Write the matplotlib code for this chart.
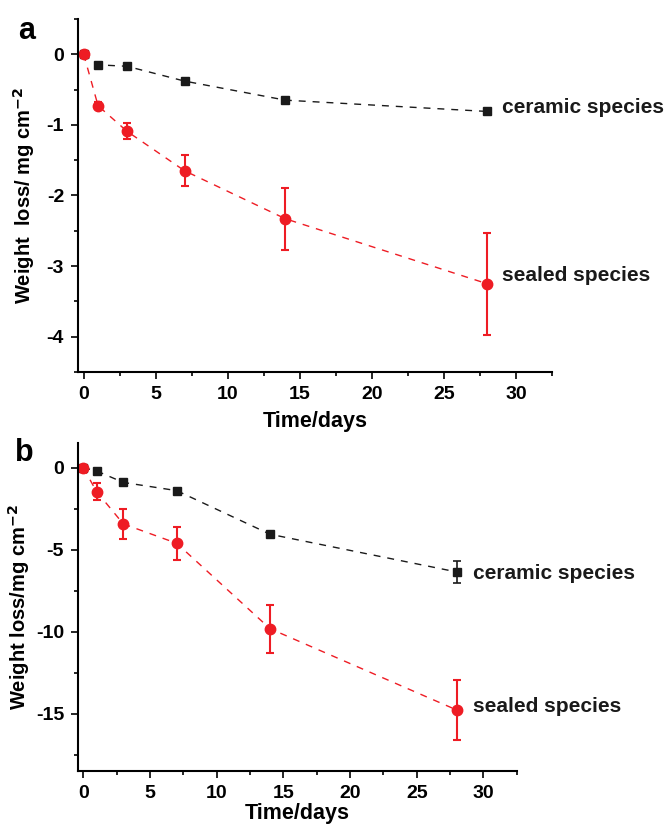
import matplotlib.pyplot as plt
from matplotlib.ticker import MultipleLocator

plt.rcParams['font.family'] = ['Liberation Sans', 'DejaVu Sans']
plt.rcParams['font.weight'] = 'bold'
plt.rcParams['axes.unicode_minus'] = False

days = [0, 1, 3, 7, 14, 28]

# panel a
ceramic_a = [0, -0.15, -0.17, -0.38, -0.65, -0.81]
ceramic_a_err = [0, 0.02, 0.02, 0.03, 0.03, 0.03]
sealed_a = [0, -0.73, -1.09, -1.65, -2.33, -3.25]
sealed_a_err = [0, 0.05, 0.11, 0.22, 0.44, 0.72]

# panel b
ceramic_b = [0, -0.2, -0.9, -1.4, -4.06, -6.36]
ceramic_b_err = [0, 0.1, 0.1, 0.1, 0.15, 0.65]
sealed_b = [0, -1.46, -3.43, -4.61, -9.82, -14.78]
sealed_b_err = [0, 0.5, 0.9, 1.02, 1.47, 1.83]

RED = '#ee1c24'
BLACK = '#1a1a1a'


def draw_panel(ax, ceramic, ceramic_err, sealed, sealed_err, ylim, ymajor, ylabel,
               text_pos, xpad, ypad):
    ax.errorbar(days, ceramic, yerr=ceramic_err, color=BLACK, marker='s', markersize=6,
                linestyle=(0, (5, 5)), linewidth=1, capsize=3, elinewidth=1.2, capthick=1.2)
    ax.errorbar(days, sealed, yerr=sealed_err, color=RED, marker='o', markersize=7.5,
                linestyle=(0, (5, 5)), linewidth=1, capsize=3, elinewidth=1.5, capthick=1.5)

    ax.set_xlim(-0.4, 32.5)
    ax.set_ylim(*ylim)
    ax.xaxis.set_major_locator(MultipleLocator(5))
    ax.xaxis.set_minor_locator(MultipleLocator(2.5))
    ax.yaxis.set_major_locator(MultipleLocator(ymajor))
    ax.yaxis.set_minor_locator(MultipleLocator(ymajor / 2))
    for side in ['top', 'right']:
        ax.spines[side].set_visible(False)
    for side in ['left', 'bottom']:
        ax.spines[side].set_linewidth(1.5)
    ax.tick_params(which='major', direction='out', length=5, width=1.2, labelsize=14, pad=5)
    ax.tick_params(which='minor', direction='out', length=3, width=1.2)
    ax.set_xlabel('Time/days', fontsize=15.5, fontweight='bold', labelpad=xpad)
    ax.set_ylabel(ylabel, fontsize=14.5, fontweight='bold', labelpad=ypad)

    ax.text(text_pos[0], text_pos[1], 'ceramic species', fontsize=15, fontweight='bold',
            va='center', ha='left', color=BLACK)
    ax.text(text_pos[0], text_pos[2], 'sealed species', fontsize=15, fontweight='bold',
            va='center', ha='left', color=BLACK)


fig = plt.figure(figsize=(6.66, 8.24), dpi=100)
ax_a = fig.add_axes([0.117, 0.5485, 0.712, 0.4285])
ax_b = fig.add_axes([0.117, 0.0643, 0.659, 0.398])

draw_panel(ax_a, ceramic_a, ceramic_a_err, sealed_a, sealed_a_err, (-4.5, 0.5), 1,
           'Weight  loss/ mg cm$^{\\mathbf{-2}}$', (29.0, -0.75, -3.13), 6, 7)
draw_panel(ax_b, ceramic_b, ceramic_b_err, sealed_b, sealed_b_err, (-18.5, 1.5), 5,
           'Weight loss/mg cm$^{\\mathbf{-2}}$', (29.2, -6.44, -14.57), 0.5, 3)

fig.text(0.027, 0.962, 'a', fontsize=22, fontweight='bold', va='center')
fig.text(0.022, 0.45, 'b', fontsize=22, fontweight='bold', va='center')

fig.savefig('out.png', dpi=100)
